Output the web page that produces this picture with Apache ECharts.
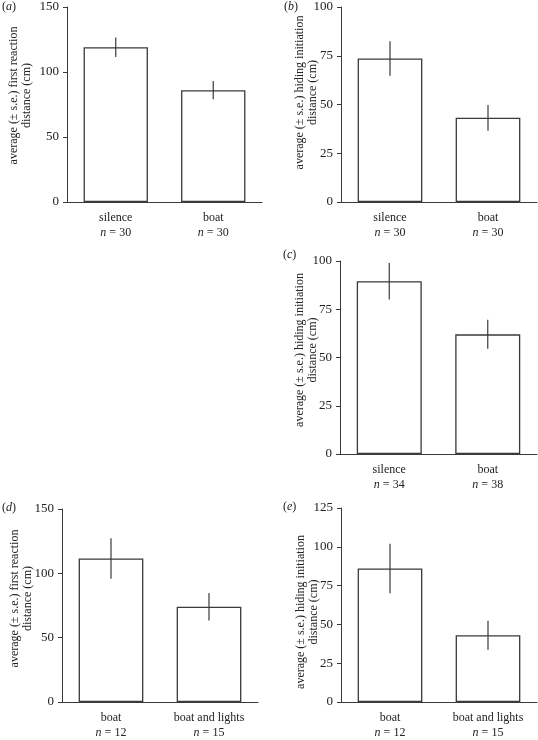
<!DOCTYPE html>
<html><head><meta charset="utf-8">
<script src="https://cdn.jsdelivr.net/npm/echarts@6/dist/echarts.min.js"></script>
<style>html,body{margin:0;padding:0;background:#fff}#c{width:538px;height:740px}</style>
</head><body><div id="c"></div>
<script>
// Panel (a)
const catsA = ['silence', 'boat'];
const nA = [30, 30];
const meanA = [119, 86];
const seA = [7.5, 7];
// Panel (b)
const catsB = ['silence', 'boat'];
const nB = [30, 30];
const meanB = [73.6, 43.2];
const seB = [8.8, 6.6];
// Panel (c)
const catsC = ['silence', 'boat'];
const nC = [34, 38];
const meanC = [89.5, 62];
const seC = [9.5, 7.5];
// Panel (d)
const catsD = ['boat', 'boat and lights'];
const nD = [12, 15];
const meanD = [111.5, 74];
const seD = [15.7, 10.7];
// Panel (e)
const catsE = ['boat', 'boat and lights'];
const nE = [12, 15];
const meanE = [86, 43];
const seE = [16, 9.3];

const yNameFirst = 'average (± s.e.) first reaction\ndistance (cm)';
const yNameHide = 'average (± s.e.) hiding initiation\ndistance (cm)';
const yMax = [150, 100, 100, 150, 125];
const yInt = [50, 25, 25, 50, 25];

const FONT = "'Liberation Serif','Times New Roman',serif";
const INK = '#222';
const LINE = '#3a3a3a';

const panels = [
  {cats: catsA, n: nA, mean: meanA, se: seA, name: yNameFirst, gap: 34, pad: [0, 0, 0, 18],
    grid: {left: 67, top: 7, width: 195, height: 195}},
  {cats: catsB, n: nB, mean: meanB, se: seB, name: yNameHide, gap: 22, pad: [0, 0, 0, 24],
    grid: {left: 341, top: 7, width: 196, height: 195}},
  {cats: catsC, n: nC, mean: meanC, se: seC, name: yNameHide, gap: 21, pad: [0, 0, 0, 15],
    grid: {left: 340, top: 261, width: 197, height: 193}},
  {cats: catsD, n: nD, mean: meanD, se: seD, name: yNameFirst, gap: 28, pad: [0, 0, 0, 14],
    grid: {left: 62, top: 509, width: 196, height: 194}},
  {cats: catsE, n: nE, mean: meanE, se: seE, name: yNameHide, gap: 21, pad: [0, 14, 0, 0],
    grid: {left: 341, top: 508, width: 196, height: 194}}
];
const letters = ['a', 'b', 'c', 'd', 'e'];
const letterPos = [[2, 1], [284, 1], [283, 249], [2, 502], [283, 501]];

const option = {
  animation: false,
  backgroundColor: '#fff',
  grid: [], xAxis: [], yAxis: [], series: [],
  graphic: letters.map((l, i) => ({
    type: 'text', left: letterPos[i][0], top: letterPos[i][1],
    style: {text: '(' + '{i|' + l + '})', font: '12px ' + FONT, fill: INK,
      rich: {i: {fontStyle: 'italic', fontFamily: FONT, fontSize: 12, fill: INK}}}
  }))
};

panels.forEach((p, i) => {
  option.grid.push(Object.assign({containLabel: false}, p.grid));
  option.xAxis.push({
    type: 'category', gridIndex: i, data: p.cats,
    axisLine: {lineStyle: {color: LINE, width: 1}},
    axisTick: {alignWithLabel: true, length: 5, lineStyle: {color: LINE}},
    axisLabel: {
      margin: 8, color: INK, fontFamily: FONT, fontSize: 12, lineHeight: 15,
      formatter: (v, idx) => v + '\n{i|n} = ' + p.n[idx],
      rich: {i: {fontStyle: 'italic', fontFamily: FONT, fontSize: 12, color: INK, lineHeight: 15}}
    }
  });
  option.yAxis.push({
    type: 'value', gridIndex: i, min: 0, max: yMax[i], interval: yInt[i],
    name: p.name, nameLocation: 'middle', nameGap: p.gap, nameMoveOverlap: false,
    nameTextStyle: {fontFamily: FONT, fontSize: 12, color: INK, lineHeight: 13, padding: p.pad},
    axisLine: {show: true, lineStyle: {color: LINE, width: 1}},
    axisTick: {show: true, length: 4, lineStyle: {color: LINE}},
    axisLabel: {margin: 8, color: INK, fontFamily: FONT, fontSize: 13},
    splitLine: {show: false}
  });
  option.series.push({
    type: 'bar', xAxisIndex: i, yAxisIndex: i, data: p.mean, barWidth: '66%',
    itemStyle: {color: '#fff', borderColor: LINE, borderWidth: 1.3}
  });
  option.series.push({
    type: 'custom', xAxisIndex: i, yAxisIndex: i,
    data: p.mean.map((m, k) => [k, m - p.se[k], m + p.se[k]]),
    renderItem: (params, api) => {
      const lo = api.coord([api.value(0), api.value(1)]);
      const hi = api.coord([api.value(0), api.value(2)]);
      return {type: 'line', shape: {x1: lo[0], y1: lo[1], x2: hi[0], y2: hi[1]},
        style: {stroke: LINE, lineWidth: 1.2}};
    },
    z: 5
  });
});

const chart = echarts.init(document.getElementById('c'), null, {renderer: 'canvas'});
chart.setOption(option);
</script></body></html>
